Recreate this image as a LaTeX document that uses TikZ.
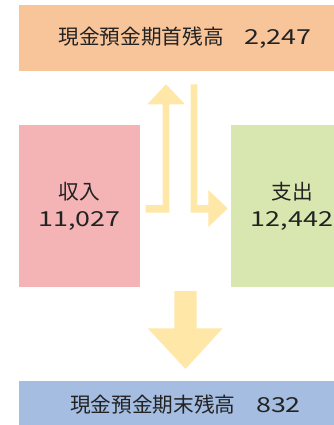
\documentclass[tikz,border=0pt]{standalone}
\usepackage{fontspec}
\newfontfamily\jpfont{Noto Sans CJK JP}
\definecolor{topc}{HTML}{F8C59B}
\definecolor{inc}{HTML}{F4B3B4}
\definecolor{outc}{HTML}{D8E7AF}
\definecolor{endc}{HTML}{A4BDE1}
\definecolor{arrc}{HTML}{FEE7A7}
\definecolor{txtc}{HTML}{222222}
\newcommand\widedigits[1]{\scalebox{1.3}[1]{#1}}
\tikzset{
  box/.style={rectangle, draw=none, inner sep=0pt, align=center, text=txtc,
    font=\jpfont\fontsize{15.5}{20.25}\selectfont},
  blockarrow/.style={fill=arrc, draw=none}
}
\begin{document}
\begin{tikzpicture}[x=0.75pt,y=-0.75pt]
\clip (0,0) rectangle (334,425);
\node (top) [box, fill=topc, minimum width=249pt, minimum height=49.5pt] at (185,38)
  {現金預金期首残高　\widedigits{2,247}};
\node (inc) [box, fill=inc, minimum width=90.75pt, minimum height=121.5pt] at (79.5,206)
  {収入\\\widedigits{11,027}};
\node (out) [box, fill=outc, minimum width=91.5pt, minimum height=121.5pt] at (292,206)
  {支出\\\widedigits{12,442}};
\node (end) [box, fill=endc, minimum width=249.75pt, minimum height=36pt] at (185.5,405)
  {現金預金期末残高　\widedigits{832}};
% up arrow (income to opening balance)
\fill[blockarrow] (145.7,205) -- (162.7,205) -- (162.7,104.3) -- (147.3,104.3)
  -- (166,84.3) -- (185,104.3) -- (169.3,104.3) -- (169.3,212.7) -- (145.7,212.7) -- cycle;
% down-right arrow (opening balance to expenses)
\fill[blockarrow] (190.7,84.3) -- (197.3,84.3) -- (197.3,205) -- (208.3,205)
  -- (208.3,190) -- (227.7,208.5) -- (208.3,227) -- (208.3,212.7) -- (190.7,212.7) -- cycle;
% down arrow
\fill[blockarrow] (174.3,291) -- (196.7,291) -- (196.7,328.3) -- (222.7,328.3)
  -- (185.5,369) -- (147.7,328.3) -- (174.3,328.3) -- cycle;
\end{tikzpicture}
\end{document}
